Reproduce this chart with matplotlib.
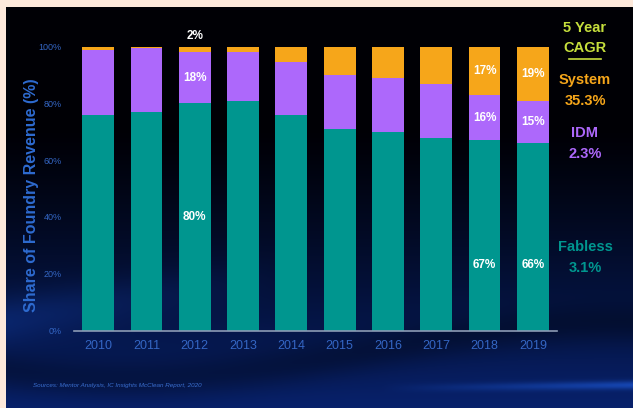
import numpy as np
import matplotlib.pyplot as plt

# --- Data ---
years = ['2010', '2011', '2012', '2013', '2014', '2015', '2016', '2017', '2018', '2019']
fabless = [76, 77, 80, 81, 76, 71, 70, 68, 67, 66]
idm = [23, 22.5, 18, 17, 18.5, 19, 19, 19, 16, 15]
system = [1, 0.5, 2, 2, 5.5, 10, 11, 13, 17, 19]

# value labels: (bar index, y position in %, text)
bar_labels = [(2, 103.8, '2%'), (2, 89, '18%'), (2, 40, '80%'),
              (8, 91.5, '17%'), (8, 75, '16%'), (8, 23, '67%'),
              (9, 90.5, '19%'), (9, 73.5, '15%'), (9, 23, '66%')]

cagr_names = ['System', 'IDM', 'Fabless']
cagr_values = ['35.3%', '2.3%', '3.1%']

# --- Colours ---
TEAL = '#00968f'
PURPLE = '#ad68fb'
ORANGE = '#f6a61a'
BLUE_TXT = '#3466c4'
LIME = '#c5de3c'
PEACH = '#fde9db'

plt.rcParams['font.family'] = ['Liberation Sans', 'DejaVu Sans']

W, H = 633, 408
fig = plt.figure(figsize=(W / 100, H / 100), dpi=100)
fig.patch.set_facecolor(PEACH)

# --- Dark slide background: black at the top fading into navy with a few swooshes ---
bg = fig.add_axes([6 / W, 0, 1 - 6 / W, 1 - 7 / H])
ny, nx = 200, 300
yy, xx = np.mgrid[0:1:ny * 1j, 0:1:nx * 1j]
t = np.clip((yy - 0.30) / 0.70, 0, 1) ** 1.2
top = np.array([0.0, 0.0, 0.02])
bot = np.array([0.03, 0.13, 0.42])
img = top + t[..., None] * (bot - top)
# soft darker wave across the lower part
wave = np.exp(-((yy - (0.86 + 0.07 * np.sin(xx * 4.0 + 0.8))) / 0.05) ** 2)
img = img * (1 - 0.30 * wave[..., None])
# lighter swoosh low on the left
glow = np.exp(-((yy - (0.78 - 0.25 * xx)) / 0.06) ** 2) * np.clip(1 - xx * 2.2, 0, 1)
img = img + glow[..., None] * np.array([0.02, 0.06, 0.14])
# faint streak along the lower right edge
streak = np.exp(-((yy - (0.965 - 0.02 * xx)) / 0.010) ** 2) * np.clip((xx - 0.6) / 0.4, 0, 1)
img = img + streak[..., None] * np.array([0.06, 0.16, 0.32])
bg.imshow(np.clip(img, 0, 1), aspect='auto', extent=[0, 1, 0, 1], interpolation='bilinear')
bg.set_axis_off()

# --- Main stacked bar chart ---
ax = fig.add_axes([74 / W, 1 - 330.5 / H, 483 / W, 283.8 / H])
ax.patch.set_alpha(0)
x = np.arange(len(years))
bw = 0.66
fab_arr = np.array(fabless)
idm_arr = np.array(idm)
sys_arr = np.array(system)
ax.bar(x, fab_arr, bw, color=TEAL, zorder=2)
ax.bar(x, idm_arr, bw, bottom=fab_arr, color=PURPLE, zorder=2)
ax.bar(x, sys_arr, bw, bottom=fab_arr + idm_arr, color=ORANGE, zorder=2)

ax.set_xlim(-0.5, len(years) - 0.5)
ax.set_ylim(0, 100)
ax.set_xticks(x)
ax.set_xticklabels(years, fontsize=9, color=BLUE_TXT)
ax.set_yticks(range(0, 101, 20))
ax.set_yticklabels([f'{v}%' for v in range(0, 101, 20)], fontsize=6.5, color=BLUE_TXT)
ax.tick_params(length=0, pad=7)
ax.tick_params(axis='y', pad=9)
for side in ['top', 'right', 'left']:
    ax.spines[side].set_visible(False)
ax.spines['bottom'].set_color('#8c9bb5')
ax.spines['bottom'].set_linewidth(1.2)

for i, yv, txt in bar_labels:
    ax.text(i, yv, txt, ha='center', va='center', color='white', fontsize=8.5,
            fontweight='bold', clip_on=False, zorder=3)

fig.text(32 / W, 1 - 195 / H, 'Share of Foundry Revenue (%)', rotation=90,
         ha='center', va='center', color='#2e6bd0', fontsize=11.5, fontweight='bold')

# --- CAGR legend on the right ---
cx = 585 / W
fig.text(cx, 1 - 28 / H, '5 Year', ha='center', va='center', color=LIME,
         fontsize=10.5, fontweight='bold')
fig.text(cx, 1 - 48 / H, 'CAGR', ha='center', va='center', color=LIME,
         fontsize=10.5, fontweight='bold')
fig.add_artist(plt.Line2D([569 / W, 601 / W], [1 - 59 / H, 1 - 59 / H],
                          color=LIME, lw=1.2))
cagr_colors = [ORANGE, PURPLE, TEAL]
cagr_y = [80, 133, 247]
for name, val, col, yp in zip(cagr_names, cagr_values, cagr_colors, cagr_y):
    fig.text(cx, 1 - yp / H, name, ha='center', va='center', color=col,
             fontsize=10.5, fontweight='bold')
    fig.text(cx, 1 - (yp + 21) / H, val, ha='center', va='center', color=col,
             fontsize=10.5, fontweight='bold')

fig.text(33 / W, 1 - 385 / H, 'Sources: Mentor Analysis, IC Insights McClean Report, 2020',
         ha='left', va='center', color='#3a6fd0', fontsize=4.5, style='italic')

fig.savefig('out.png', dpi=100, facecolor=PEACH)
